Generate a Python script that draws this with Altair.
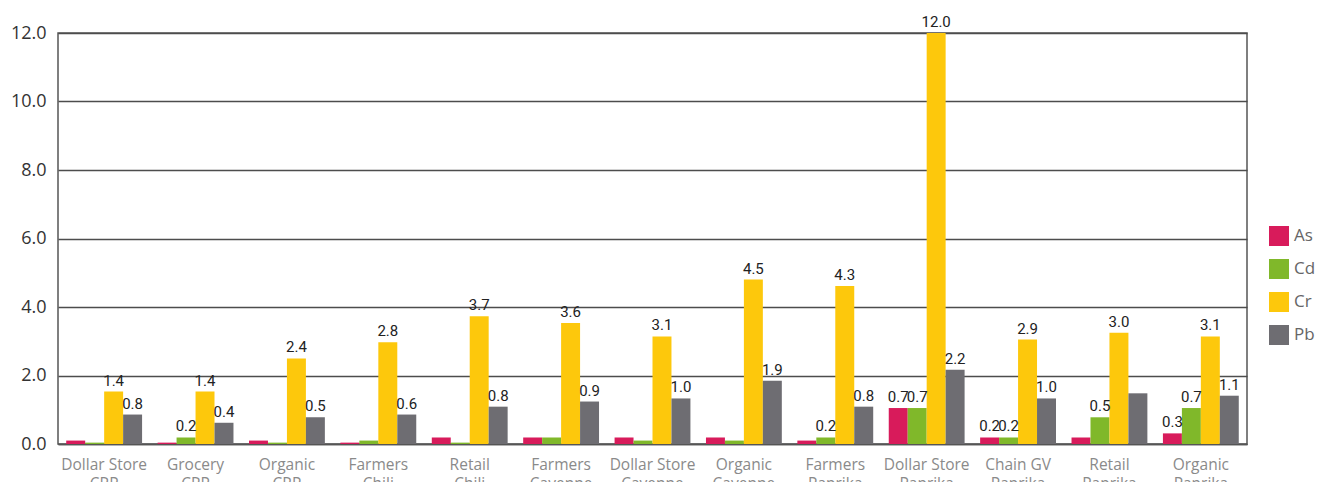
import altair as alt
import pandas as pd

categories = ["Dollar Store CRP", "Grocery CRP", "Organic CRP", "Farmers Chili",
              "Retail Chili", "Farmers Cayenne", "Dollar Store Cayenne", "Organic Cayenne",
              "Farmers Paprika", "Dollar Store Paprika", "Chain GV Paprika", "Retail Paprika",
              "Organic Paprika"]
series = ["As", "Cd", "Cr", "Pb"]
colors = ["#D81B5B", "#80B82A", "#FDC80C", "#6E6D72"]

as_vals = [0.10, 0.04, 0.10, 0.04, 0.19, 0.19, 0.19, 0.19, 0.10, 1.05, 0.19, 0.19, 0.31]
cd_vals = [0.04, 0.19, 0.04, 0.10, 0.04, 0.19, 0.10, 0.10, 0.19, 1.05, 0.19, 0.78, 1.05]
cr_vals = [1.53, 1.53, 2.50, 2.97, 3.73, 3.53, 3.14, 4.80, 4.61, 12.0, 3.05, 3.25, 3.14]
pb_vals = [0.86, 0.62, 0.78, 0.86, 1.09, 1.24, 1.33, 1.85, 1.09, 2.17, 1.33, 1.48, 1.41]

as_lbl = ["", "", "", "", "", "", "", "", "", "0.7", "0.2", "", "0.3"]
cd_lbl = ["", "0.2", "", "", "", "", "", "", "0.2", "0.7", "0.2", "0.5", "0.7"]
cr_lbl = ["1.4", "1.4", "2.4", "2.8", "3.7", "3.6", "3.1", "4.5", "4.3", "12.0", "2.9", "3.0", "3.1"]
pb_lbl = ["0.8", "0.4", "0.5", "0.6", "0.8", "0.9", "1.0", "1.9", "0.8", "2.2", "1.0", "", "1.1"]

rows = []
for s, vals, lbls in zip(series, [as_vals, cd_vals, cr_vals, pb_vals],
                         [as_lbl, cd_lbl, cr_lbl, pb_lbl]):
    for c, v, l in zip(categories, vals, lbls):
        rows.append({"cat": c, "metal": s, "value": v, "label": l})
df = pd.DataFrame(rows)

x_enc = alt.X("cat:N", sort=categories, title=None,
              scale=alt.Scale(paddingInner=0.17, paddingOuter=0.09),
              axis=alt.Axis(labelAngle=0, labelColor="#8a8a8a", labelFontSize=15.5,
                            labelFont="Open Sans", labelPadding=13, labelLineHeight=19,
                            ticks=False, domainColor="#555555", domainWidth=1.5,
                            labelExpr="[slice(datum.label, 0, lastindexof(datum.label, ' ')), slice(datum.label, lastindexof(datum.label, ' ') + 1)]"))
xo_enc = alt.XOffset("metal:N", sort=series, scale=alt.Scale(paddingInner=0, paddingOuter=0))
y_enc = alt.Y("value:Q", title=None,
              scale=alt.Scale(domain=[0, 12], nice=False),
              axis=alt.Axis(values=[0, 2, 4, 6, 8, 10, 12], format=".1f", ticks=False,
                            labelColor="#333333", labelFontSize=18, labelFont="Open Sans",
                            labelPadding=12, domain=False, gridColor="#4d4d4d",
                            gridWidth=1.5, gridOpacity=1))

bars = alt.Chart(df).mark_bar().encode(
    x=x_enc,
    xOffset=xo_enc,
    y=y_enc,
    color=alt.Color("metal:N", sort=series,
                    scale=alt.Scale(domain=series, range=colors),
                    legend=alt.Legend(title=None, orient="none", legendX=1211, legendY=193,
                                      symbolType="square", symbolSize=400,
                                      symbolStrokeWidth=0, symbolOpacity=1,
                                      labelFontSize=17, labelColor="#666666",
                                      labelFont="Open Sans", rowPadding=13,
                                      labelOffset=5)),
)

text = alt.Chart(df).transform_filter("datum.label != ''").mark_text(
    baseline="bottom", dy=-3, fontSize=15, color="#222222",
    font="Roboto"
).encode(
    x=alt.X("cat:N", sort=categories),
    xOffset=alt.XOffset("metal:N", sort=series),
    y=alt.Y("value:Q"),
    text="label:N",
)

chart = alt.layer(bars, text).properties(
    width=1189, height=411,
    autosize=alt.AutoSizeParams(type="none"),
    padding={"left": 50, "top": 25, "right": 68, "bottom": 38},
).configure_view(stroke="#555555", strokeWidth=1.5)

chart.save("out.html", embed_options={"renderer": "svg", "actions": False})
